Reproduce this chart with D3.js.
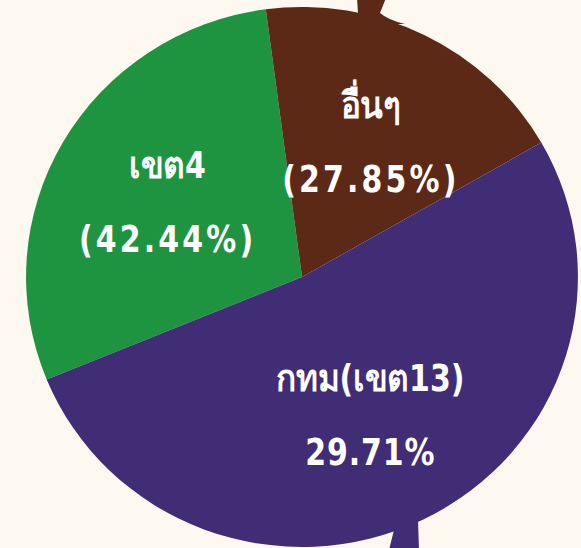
<!DOCTYPE html>
<html>
<head>
<meta charset="utf-8">
<script src="https://cdn.jsdelivr.net/npm/d3@7"></script>
<style>
  html, body { margin: 0; padding: 0; background: #fdf9f1; }
  #chart { width: 581px; height: 548px; overflow: hidden; }
</style>
</head>
<body>
<div id="chart"></div>
<script>
// categories and the labels printed on the slices
const categories = ['เขต4', 'อื่นๆ', 'กทม(เขต13)'];
const percentLabels = ['(42.44%)', '(27.85%)', '29.71%'];
// arc sizes as drawn in the picture (share of the full circle, %)
const sliceShares = [29.1, 18.8, 52.1];
const sliceColors = ['#1f9440', '#5b2916', '#412c76'];

const width = 581, height = 548;
const cx = 302, cy = 277;
const radius = 270;
const stretchX = 1.022; // the source circle is a touch wider than tall

const svg = d3.select('#chart').append('svg')
  .attr('width', width)
  .attr('height', height);

// stems sticking out of the pie (top brown, bottom purple)
svg.append('path')
  .attr('d', 'M357,-2 L386,-2 L380,13 Q388,20 405,24 L335,24 Q350,18 358,13 Z')
  .attr('fill', sliceColors[1]);
svg.append('path')
  .attr('d', 'M389,550 L419,550 L418,520 L395,526 Z')
  .attr('fill', sliceColors[2]);

const pie = d3.pie()
  .sort(null)
  .value(d => d)
  .startAngle(-112.3 * Math.PI / 180)
  .endAngle(-112.3 * Math.PI / 180 + 2 * Math.PI);

const arcs = pie(sliceShares);

const arc = d3.arc().innerRadius(0).outerRadius(radius);
const labelArc = d3.arc().innerRadius(152).outerRadius(152);

const g = svg.append('g')
  .attr('transform', `translate(${cx},${cy}) scale(${stretchX},1)`);

g.selectAll('path.slice')
  .data(arcs)
  .enter().append('path')
  .attr('class', 'slice')
  .attr('d', arc)
  .attr('fill', (d, i) => sliceColors[i]);

// labels (narrow, tall bold type like the source)
const labels = svg.selectAll('g.label')
  .data(arcs)
  .enter().append('g')
  .attr('class', 'label')
  .attr('transform', d => {
    const [x, y] = labelArc.centroid(d);
    return `translate(${cx + x * stretchX},${cy + y}) scale(0.9,1)`;
  })
  .style('font-family', '"DejaVu Sans Condensed", "DejaVu Sans", "Noto Sans", sans-serif')
  .style('font-weight', 'bold')
  .style('font-size', '37px')
  .attr('fill', '#ffffff')
  .attr('text-anchor', 'middle');

labels.append('text')
  .attr('y', -23)
  .text((d, i) => categories[i]);

labels.append('text')
  .attr('y', 51)
  .style('letter-spacing', (d, i) => percentLabels[i].startsWith('(') ? '3.5px' : '1px')
  .text((d, i) => percentLabels[i]);
</script>
</body>
</html>
